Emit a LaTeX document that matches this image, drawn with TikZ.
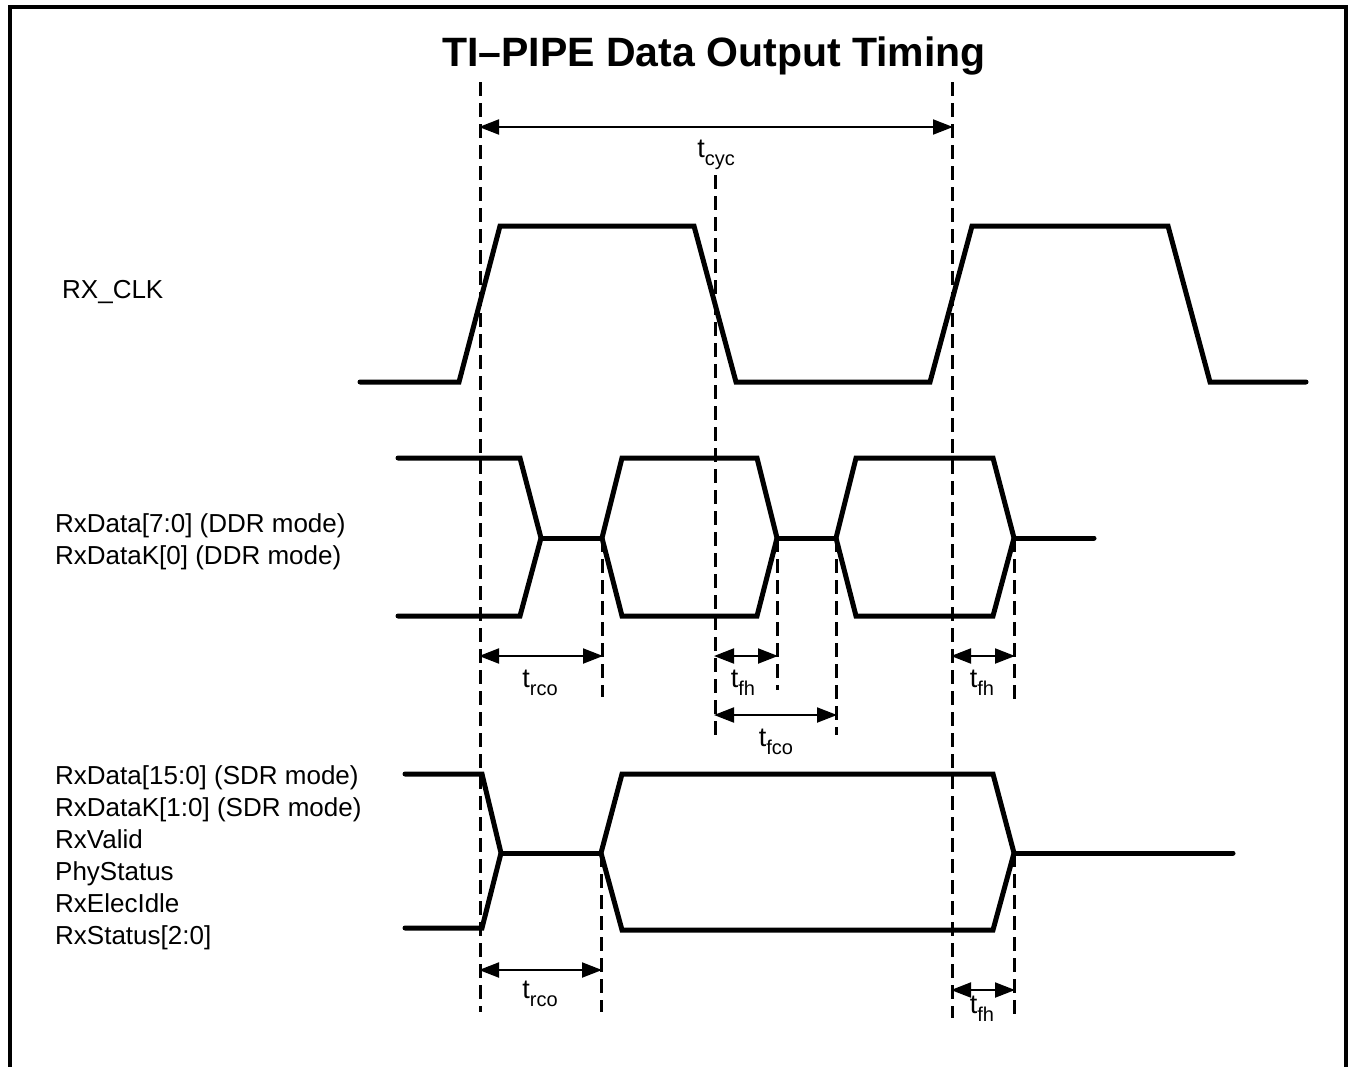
\documentclass[tikz,border=0pt]{standalone}
\usepackage{fontspec}
\setmainfont{Liberation Sans}
\usetikzlibrary{arrows.meta}
\begin{document}
\begin{tikzpicture}[x=1pt,y=-1pt,
  wave/.style={line width=5pt,line join=miter,line cap=round},
  guide/.style={line width=3pt,dash pattern=on 14pt off 7pt},
  dim/.style={line width=2pt,{Triangle[length=20pt,width=15pt]}-{Triangle[length=20pt,width=15pt]},shorten <=-1pt,shorten >=-1pt},
  sig/.style={anchor=base west,inner sep=0pt,font=\fontsize{26}{32}\selectfont},
  tlab/.style={anchor=base,inner sep=0pt,font=\fontsize{27}{32}\selectfont},
  frame/.style={line width=4.5pt,line join=miter}]
\newcommand{\subt}[1]{t\raisebox{-8pt}{\fontsize{20}{20}\selectfont #1}}
\useasboundingbox (0,0) rectangle (1356,1066);
% frame
\draw[frame] (10,1070) -- (10,7) -- (1346,7) -- (1346,1070);
% title
\node[anchor=base,inner sep=0pt,font=\fontsize{41}{48}\selectfont\bfseries] (title) at (714,66) {TI--PIPE Data Output Timing};
% signal labels
\node[sig] (lclk) at (62,298) {RX\_CLK};
\node[sig] (ld1) at (55,532) {RxData[7:0] (DDR mode)};
\node[sig] (ld2) at (55,564) {RxDataK[0] (DDR mode)};
\node[sig] (ls1) at (55,784) {RxData[15:0] (SDR mode)};
\node[sig] (ls2) at (55,816) {RxDataK[1:0] (SDR mode)};
\node[sig] (ls3) at (55,848) {RxValid};
\node[sig] (ls4) at (55,880) {PhyStatus};
\node[sig] (ls5) at (55,912) {RxElecIdle};
\node[sig] (ls6) at (55,944) {RxStatus[2:0]};
% dashed guide coordinates
\coordinate (a1) at (480,82);  \coordinate (a2) at (480,1012);
\coordinate (b1) at (952,82);  \coordinate (b2) at (952,1018);
\coordinate (c1) at (715,175); \coordinate (c2) at (715,738);
\coordinate (d1) at (602,538); \coordinate (d2) at (602,697);
\coordinate (e1) at (777,538); \coordinate (e2) at (777,690);
\coordinate (f1) at (836,538); \coordinate (f2) at (836,735);
\coordinate (g1) at (1014,538); \coordinate (g2) at (1014,700);
\coordinate (h1) at (601,853); \coordinate (h2) at (601,1012);
\coordinate (k1) at (1014,853); \coordinate (k2) at (1014,1018);
\foreach \p in {a,b,c,d,e,f,g,h,k} \draw[guide] (\p1) -- (\p2);
% waveforms
\draw[wave] (360,382) -- (459,382) -- (500,226) -- (694,226) -- (736,382) -- (930,382) -- (972,226) -- (1168,226) -- (1210,382) -- (1306,382);
% DDR
\draw[wave] (398,458) -- (520,458) -- (541,538) -- (520,616) -- (398,616);
\draw[wave] (541,538) -- (602,538);
\draw[wave] (602,538) -- (622,458) -- (757,458) -- (777,538) -- (757,616) -- (622,616) -- cycle;
\draw[wave] (777,538) -- (836,538);
\draw[wave] (836,538) -- (856,458) -- (993,458) -- (1014,538) -- (993,616) -- (856,616) -- cycle;
\draw[wave] (1014,538) -- (1094,538);
% SDR
\draw[wave] (405,774) -- (482,774) -- (501,853) -- (482,928) -- (405,928);
\draw[wave] (501,853) -- (601,853);
\draw[wave] (601,853) -- (622,774) -- (993,774) -- (1014,853) -- (993,930) -- (622,930) -- cycle;
\draw[wave] (1014,853) -- (1233,853);
% dimension arrows
\coordinate (cycL) at (480,127); \coordinate (cycR) at (952,127);
\draw[dim] (cycL) -- (cycR);
\node[tlab] (tcyc) at (716,157) {\subt{cyc}};
\coordinate (r1L) at (480,656); \coordinate (r1R) at (602,656);
\draw[dim] (r1L) -- (r1R);
\node[tlab] (trco1) at (540,687) {\subt{rco}};
\coordinate (h1L) at (715,656); \coordinate (h1R) at (777,656);
\draw[dim] (h1L) -- (h1R);
\node[tlab] (tfh1) at (743,687) {\subt{fh}};
\coordinate (h2L) at (952,656); \coordinate (h2R) at (1014,656);
\draw[dim] (h2L) -- (h2R);
\node[tlab] (tfh2) at (982,687) {\subt{fh}};
\coordinate (fcL) at (715,715); \coordinate (fcR) at (836,715);
\draw[dim] (fcL) -- (fcR);
\node[tlab] (tfco) at (776,746) {\subt{fco}};
\coordinate (r2L) at (480,970); \coordinate (r2R) at (601,970);
\draw[dim] (r2L) -- (r2R);
\node[tlab] (trco2) at (540,998) {\subt{rco}};
\coordinate (h3L) at (952,990); \coordinate (h3R) at (1014,990);
\draw[dim] (h3L) -- (h3R);
\node[tlab] (tfh3) at (982,1013) {\subt{fh}};
\end{tikzpicture}
\end{document}
